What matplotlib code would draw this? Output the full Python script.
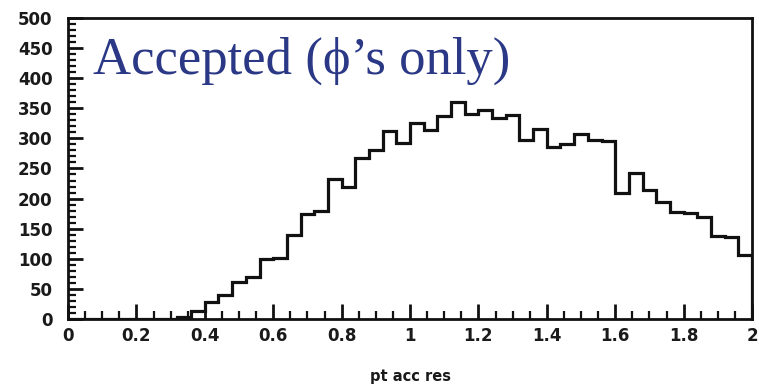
import numpy as np
import matplotlib
matplotlib.use('Agg')
import matplotlib.pyplot as plt
from matplotlib.ticker import MultipleLocator, FuncFormatter

# histogram contents, 50 bins of width 0.04 between 0 and 2
x_min, x_max = 0.0, 2.0
counts = [0, 0, 0, 0, 0, 0, 0, 0, 4, 14,
          28, 40, 62, 69, 100, 102, 140, 174, 179, 232,
          219, 267, 281, 313, 293, 325, 314, 338, 361, 340,
          347, 334, 339, 298, 315, 286, 290, 308, 298, 296,
          210, 242, 214, 195, 178, 176, 170, 137, 136, 106]
x_label = 'pt acc res'
title = 'Accepted (\u03d5\u2019s only)'

edges = np.linspace(x_min, x_max, len(counts) + 1)

fig = plt.figure(figsize=(7.59, 3.88), dpi=100)
ax = fig.add_axes([0.0896, 0.178, 0.9012, 0.7756])

ax.stairs(counts, edges, color='#111111', linewidth=2.3, baseline=0)

ax.set_xlim(x_min, x_max)
ax.set_ylim(0, 500)

for side in ['left', 'right', 'top', 'bottom']:
    ax.spines[side].set_linewidth(2.0)
    ax.spines[side].set_color('#111111')

ax.xaxis.set_major_locator(MultipleLocator(0.2))
ax.xaxis.set_minor_locator(MultipleLocator(0.05))
ax.yaxis.set_major_locator(MultipleLocator(50))
ax.yaxis.set_minor_locator(MultipleLocator(10))
ax.xaxis.set_major_formatter(FuncFormatter(lambda v, p: '%g' % round(v, 2)))

ax.tick_params(which='major', direction='in', length=11, width=2, color='#111111',
               top=False, right=False)
ax.tick_params(which='minor', direction='in', length=6, width=1.6, color='#111111',
               top=False, right=False)
ax.tick_params(axis='x', which='major', pad=6)
ax.tick_params(axis='y', which='major', pad=11)

for lab in ax.get_xticklabels() + ax.get_yticklabels():
    lab.set_fontfamily('DejaVu Sans')
    lab.set_fontweight('bold')
    lab.set_fontsize(12)
    lab.set_color('#1a1a1a')

ax.set_xlabel(x_label, fontfamily='DejaVu Sans', fontweight='bold', fontsize=10.5,
              labelpad=17, color='#1a1a1a')

ax.text(0.0365, 0.814, title, transform=ax.transAxes, fontsize=38,
        family=['Liberation Serif', 'DejaVu Serif'], color='#2b3886',
        ha='left', va='baseline')

fig.savefig('out.png', dpi=100, facecolor='white')
